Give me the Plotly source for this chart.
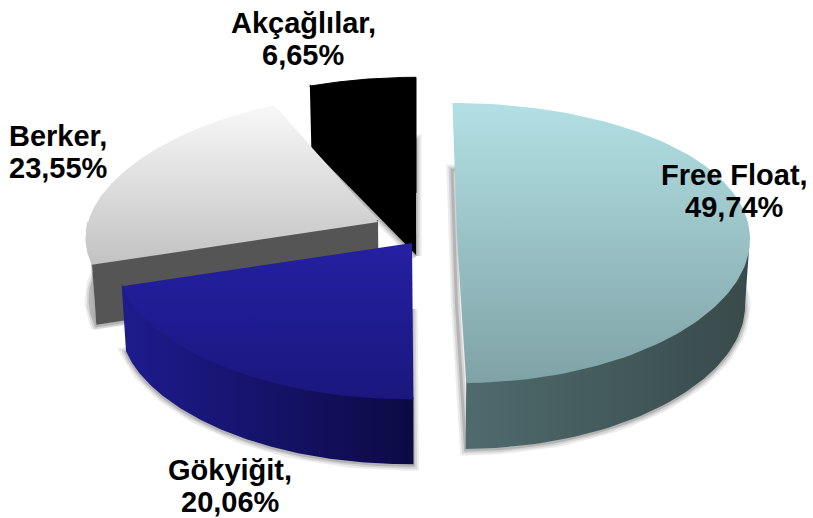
import numpy as np
import plotly.graph_objects as go

# data
categories = ["Free Float", "Gökyiğit", "Berker", "Akçağlılar"]
values = [49.74, 20.06, 23.55, 6.65]

# exploded-pie projection settings, one entry per slice
apex_x = [457, 412, 378, 416]
apex_y = [237, 243, 222, 193]
radius_x = [293, 293, 290, 297]
radius_y = [140, 125, 132, 130]
persp_x = [0.0, 0.13, 0.13, 0.13]
persp_y = [0.043, 0.25, 0.036, 0.11]
shear = [4.5, -4, 0, 0]
depth = [66, 65, 60, 62]

top_colors = [("#7FA2A6", "#B2E0E4"), ("#1A177E", "#2420A2"), ("#C2C2C2", "#F8F8F8"), ("#000000", "#000000")]
wall_colors = [("#4F6B6E", "#394A4A"), ("#1E1B8E", "#0C0A44"), ("#C4C4C4", "#A8A8A8"), ("#000000", "#000000")]
cut_colors = ["#455E60", "#1E1B8E", "#555555", "#000000"]

label_x = [734, 230, 58, 303]
label_y1 = [175, 470, 136, 23]
label_y2 = [207, 502, 168, 55]

VANISH_X = 420
SHRINK = 0.014


def project(i, theta_deg, r=1.0):
    t = np.radians(theta_deg)
    a, b = np.sin(t) * r, -np.cos(t) * r
    x = apex_x[i] + radius_x[i] * a * (1 + persp_x[i] * b) + shear[i] * b
    y = apex_y[i] + radius_y[i] * b * (1 + persp_y[i] * b)
    return x, y


def drop(i, x, y):
    x = np.asarray(x, float)
    return x + (VANISH_X - x) * SHRINK * depth[i] / 62, np.asarray(y, float) + depth[i]


def poly(x, y, fill, name):
    d = dict(x=np.asarray(x), y=np.asarray(y), mode="lines", line=dict(width=0),
             fill="toself", hoverinfo="skip", showlegend=False, name=name)
    d.update(fill)
    return go.Scatter(**d)


def vgrad(c):
    return dict(fillgradient=dict(type="vertical", colorscale=[[0, c[0]], [1, c[1]]]))


def hgrad(c):
    return dict(fillgradient=dict(type="horizontal", colorscale=[[0, c[0]], [1, c[1]]]))


starts = np.concatenate([[0], np.cumsum(values)[:-1]]) * 3.6
ends = np.cumsum(values) * 3.6

fig = go.Figure()

# soft shadows below the extruded base
for i in [3, 2, 1, 0]:
    th = np.linspace(starts[i], ends[i], 80)
    ax, ay = project(i, th)
    bx, by = drop(i, np.r_[apex_x[i], ax, apex_x[i]], np.r_[apex_y[i], ay, apex_y[i]])
    for w, alpha in [(11, 0.10), (7, 0.14), (3, 0.22)]:
        fig.add_trace(go.Scatter(x=bx, y=by + 1, mode="lines", hoverinfo="skip", showlegend=False,
                                 line=dict(width=w, color=f"rgba(70,70,70,{alpha})")))

for i in [3, 2, 1, 0]:
    th = np.linspace(starts[i], ends[i], 120)
    ax, ay = project(i, th)
    # outer wall: only the near half of the rim faces the viewer
    mask = -np.cos(np.radians(th)) >= 0
    if mask.any():
        wx, wy = ax[mask], ay[mask]
        dx, dy = drop(i, wx, wy)
        fig.add_trace(poly(np.r_[wx, dx[::-1], wx[0]], np.r_[wy - 2, dy[::-1], wy[0] - 2],
                           hgrad(wall_colors[i]), categories[i] + " wall"))
    # cut faces turned towards the viewer
    if i in (2, 3):
        ex, ey = project(i, starts[i])
        cx = np.array([apex_x[i], ex])
        cy = np.array([apex_y[i], ey])
        ddx, ddy = drop(i, cx, cy)
        fig.add_trace(poly(np.r_[cx, ddx[::-1], cx[0]], np.r_[cy - 2, ddy[::-1], cy[0] - 2],
                           dict(fillcolor=cut_colors[i]), categories[i] + " cut"))
    # top face
    extra = dict(line=dict(width=1, color="#000000")) if i == 3 else {}
    fig.add_trace(poly(np.r_[apex_x[i], ax, apex_x[i]], np.r_[apex_y[i], ay, apex_y[i]],
                       {**vgrad(top_colors[i]), **extra}, categories[i]))

for i, c in enumerate(categories):
    pct = f"{values[i]:.2f}%".replace(".", ",")
    for line, yy in ((f"{c},", label_y1[i]), (pct, label_y2[i])):
        fig.add_annotation(x=label_x[i], y=yy, text=f"<b>{line}</b>", showarrow=False,
                           font=dict(family="Liberation Sans", size=29, color="#000000"),
                           align="center", xanchor="center", yanchor="middle")

fig.update_layout(width=813, height=518, margin=dict(l=0, r=0, t=0, b=0),
                  paper_bgcolor="white", plot_bgcolor="white", showlegend=False,
                  xaxis=dict(range=[0, 813], visible=False, fixedrange=True),
                  yaxis=dict(range=[518, 0], visible=False, fixedrange=True))
fig.write_html("out.html", config=dict(displayModeBar=False),
               post_script="document.body.style.margin='0';document.documentElement.style.overflow='hidden';")
